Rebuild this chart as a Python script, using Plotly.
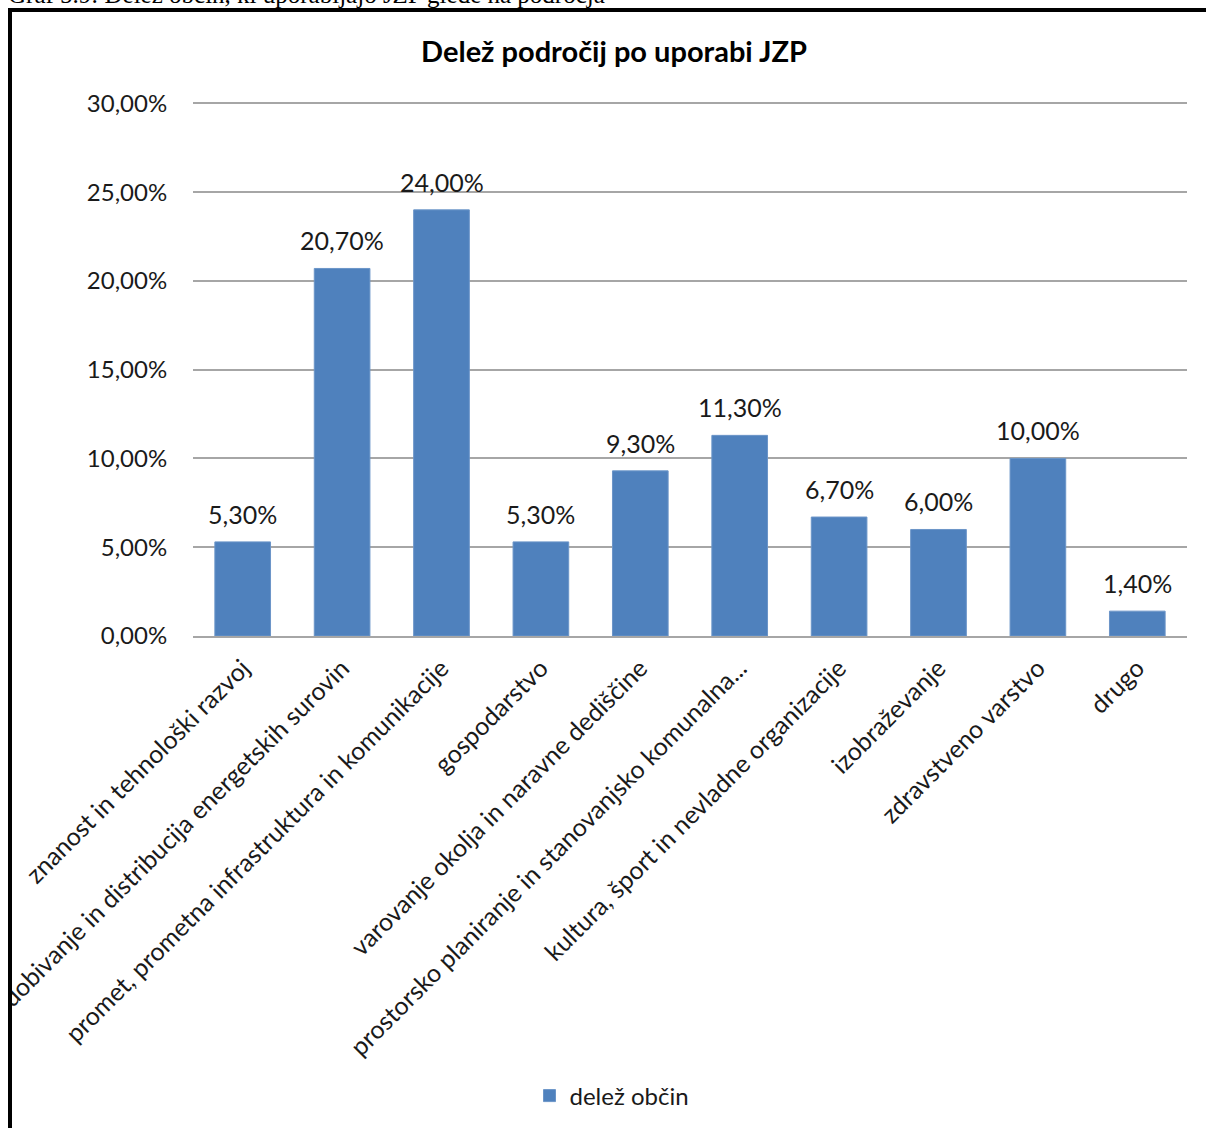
import plotly.graph_objects as go

categories = [
    "znanost in tehnološki razvoj",
    "pridobivanje in distribucija energetskih surovin",
    "promet, prometna infrastruktura in komunikacije",
    "gospodarstvo",
    "varovanje okolja in naravne dediščine",
    "prostorsko planiranje in stanovanjsko komunalna...",
    "kultura, šport in nevladne organizacije",
    "izobraževanje",
    "zdravstveno varstvo",
    "drugo",
]
shares = [5.3, 20.7, 24.0, 5.3, 9.3, 11.3, 6.7, 6.0, 10.0, 1.4]
y_ticks = [0, 5, 10, 15, 20, 25, 30]
y_tick_labels = [("%.2f%%" % v).replace(".", ",") for v in y_ticks]

series_name = "delež občin"
chart_title = "Delež področij po uporabi JZP"
caption = "Graf 5.9: Delež občin, ki uporabljajo JZP glede na področja"

W, H = 1206, 1128
L, R, T, B = 193, 19, 98, 492
pw, ph = W - L - R, H - T - B
Y_MAX = 30.3


def px_x(p):
    return (p - L) / pw


def px_y(p):
    return (H - B - p) / ph


font = "Lato, 'Open Sans', sans-serif"
fig = go.Figure()
fig.add_trace(go.Bar(
    x=categories,
    y=shares,
    name=series_name,
    marker=dict(color="#4F81BD", line=dict(color="#6B95C8", width=1)),
    showlegend=True,
))

# value labels above bars
for c, v in zip(categories, shares):
    fig.add_annotation(
        x=c, y=v, xref="x", yref="y",
        text=("%.2f%%" % v).replace(".", ","),
        showarrow=False, yanchor="bottom", yshift=11,
        font=dict(family=font, size=25, color="#1a1a1a"),
    )

# caption above the framed chart
fig.add_annotation(
    x=px_x(6), y=px_y(10), xref="paper", yref="paper",
    text=caption, showarrow=False, xanchor="left", yanchor="bottom",
    font=dict(family="'Liberation Serif', 'Times New Roman', serif", size=25, color="black"),
)

# mask and frame
fig.add_shape(type="rect", xref="paper", yref="paper",
              x0=px_x(-20), x1=px_x(8), y0=px_y(H + 20), y1=px_y(12),
              fillcolor="white", line=dict(width=0), layer="above")
fig.add_shape(type="line", xref="paper", yref="paper",
              x0=px_x(10), x1=px_x(W + 20), y0=px_y(10), y1=px_y(10),
              line=dict(color="black", width=4), layer="above")
fig.add_shape(type="line", xref="paper", yref="paper",
              x0=px_x(10), x1=px_x(10), y0=px_y(8), y1=px_y(H + 20),
              line=dict(color="black", width=4), layer="above")

fig.update_layout(
    width=W, height=H,
    margin=dict(l=L, r=R, t=T, b=B, autoexpand=False),
    paper_bgcolor="white", plot_bgcolor="white",
    bargap=0.44,
    title=dict(text="<b>%s</b>" % chart_title, xref="container", x=614 / W,
               xanchor="center", yref="container", y=1 - 52 / H, yanchor="middle",
               font=dict(family=font, size=29, color="black")),
    legend=dict(orientation="h", x=px_x(612), xanchor="center",
                y=px_y(1096), yanchor="middle",
                font=dict(family=font, size=24, color="#1a1a1a"),
                itemwidth=30),
    showlegend=True,
)
fig.update_xaxes(
    tickangle=-45, showgrid=False, showline=True, linecolor="#A6A6A6", linewidth=1.5,
    tickfont=dict(family=font, size=25, color="#1a1a1a"),
    ticks="outside", ticklen=6, tickcolor="rgba(0,0,0,0)",
)
fig.update_yaxes(
    range=[0, Y_MAX], tickvals=y_ticks, ticktext=y_tick_labels,
    showgrid=True, gridcolor="#A6A6A6", gridwidth=1.5, zeroline=False,
    tickfont=dict(family=font, size=24, color="#1a1a1a"),
    ticks="outside", ticklen=20, tickcolor="rgba(0,0,0,0)",
)

fig.write_html("out.html")
